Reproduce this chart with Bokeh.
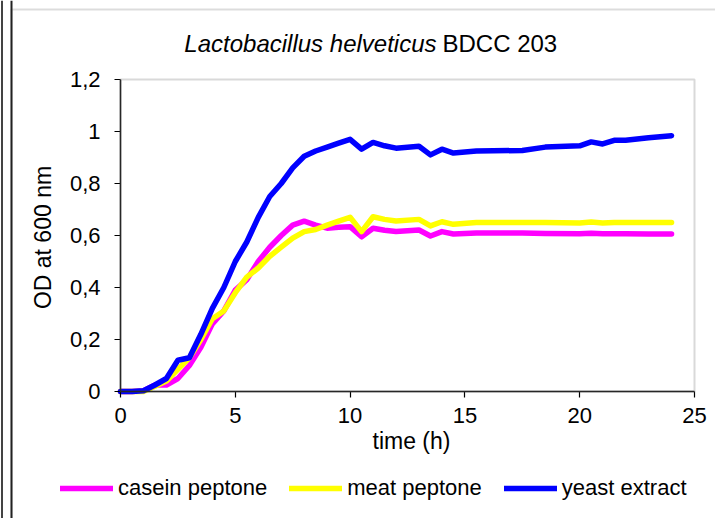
from bokeh.plotting import figure
from bokeh.models import (Range1d, FixedTicker, Label, Legend, LegendItem, LinearAxis,
                          BoxAnnotation, Span)
from bokeh.embed import file_html
from bokeh.resources import INLINE

# time (h)
time_h = [0, 0.5, 1, 1.5, 2, 2.5, 3, 3.5, 4, 4.5, 5, 5.5, 6, 6.5, 7, 7.5, 8, 8.5,
          9, 9.5, 10, 10.5, 11, 11.5, 12, 13, 13.5, 14, 14.5, 15.5, 17.5, 18.5,
          20, 20.5, 21, 21.5, 22, 23, 24]

casein_peptone = [0, 0, 0.003, 0.025, 0.025, 0.05, 0.10, 0.17, 0.26, 0.31, 0.39, 0.43,
                  0.50, 0.555, 0.60, 0.64, 0.655, 0.64, 0.628, 0.632, 0.634, 0.595,
                  0.628, 0.62, 0.615, 0.621, 0.598, 0.615, 0.606, 0.61, 0.61, 0.608,
                  0.607, 0.609, 0.607, 0.607, 0.607, 0.606, 0.606]

meat_peptone = [0, 0, 0, 0.02, 0.04, 0.085, 0.13, 0.20, 0.28, 0.31, 0.38, 0.44,
                0.475, 0.52, 0.555, 0.59, 0.615, 0.623, 0.64, 0.655, 0.67, 0.615,
                0.672, 0.662, 0.656, 0.662, 0.637, 0.653, 0.643, 0.65, 0.65, 0.65,
                0.648, 0.652, 0.648, 0.65, 0.65, 0.65, 0.65]

yeast_extract = [0, 0, 0.003, 0.025, 0.05, 0.12, 0.13, 0.22, 0.32, 0.40, 0.50, 0.575,
                 0.67, 0.75, 0.80, 0.86, 0.905, 0.925, 0.94, 0.955, 0.97, 0.932,
                 0.958, 0.945, 0.936, 0.943, 0.91, 0.932, 0.917, 0.925, 0.927, 0.94,
                 0.945, 0.96, 0.952, 0.966, 0.966, 0.976, 0.984]

series_names = ["casein peptone", "meat peptone", "yeast extract"]
series_colors = ["#FF00FF", "#FFFF00", "#0000FF"]

x_ticks = [0, 5, 10, 15, 20, 25]
y_ticks = [0, 0.2, 0.4, 0.6, 0.8, 1, 1.2]
y_tick_labels = ["0", "0,2", "0,4", "0,6", "0,8", "1", "1,2"]
x_limits = (0, 25)
y_limits = (0, 1.2)

FONT = "Liberation Sans"

# canvas geometry (px): plot box inside the canvas
W, H = 715, 518
BOX_L, BOX_R, BOX_T, BOX_B = 120, 694, 79, 391
sx = (BOX_R - BOX_L) / (x_limits[1] - x_limits[0])
sy = (BOX_B - BOX_T) / (y_limits[1] - y_limits[0])


def dx(px):
    return x_limits[0] + (px - BOX_L) / sx


def dy(py):
    return y_limits[0] + (BOX_B - py) / sy


xr = Range1d(dx(0), dx(W))
yr = Range1d(dy(H), dy(0))

p = figure(width=W, height=H, output_backend="svg", toolbar_location=None,
           x_range=xr, y_range=yr, x_axis_type=None, y_axis_type=None,
           min_border=0, min_border_left=0, min_border_right=0,
           min_border_top=0, min_border_bottom=0)
p.grid.visible = False
p.outline_line_color = None
p.background_fill_color = "white"
p.border_fill_color = "white"

# chart-area frame
p.add_layout(Span(location=dx(1.5), dimension="height", line_color="#444444", line_width=2))
p.add_layout(BoxAnnotation(left=dx(11), top=dy(9), right=dx(W + 20), bottom=dy(H + 20),
                           fill_alpha=0, line_color="#8a8a8a", line_width=2))
p.add_layout(Span(location=dx(11), dimension="height", line_color="#222222", line_width=2))

# plot box (grey top/right edges)
p.add_layout(BoxAnnotation(left=x_limits[0], right=x_limits[1], bottom=y_limits[0],
                           top=y_limits[1], fill_alpha=0, line_color="#808080",
                           line_width=2))

xaxis = LinearAxis(ticker=FixedTicker(ticks=x_ticks), fixed_location=y_limits[0],
                   bounds=x_limits)
yaxis = LinearAxis(ticker=FixedTicker(ticks=y_ticks), fixed_location=x_limits[0],
                   bounds=y_limits)
yaxis.major_label_overrides = dict(zip(y_ticks, y_tick_labels))
for ax in (xaxis, yaxis):
    ax.axis_line_color = "black"
    ax.axis_line_width = 1.5
    ax.major_tick_line_color = "black"
    ax.major_tick_line_width = 1.2
    ax.major_tick_in = 0
    ax.major_tick_out = 6
    ax.minor_tick_line_color = None
    ax.major_label_text_font = FONT
    ax.major_label_text_font_size = "22px"
    ax.major_label_text_color = "black"
xaxis.major_label_standoff = 10
yaxis.major_label_standoff = 14
p.add_layout(xaxis, "below")
p.add_layout(yaxis, "left")

renderers = []
for ys, c in zip([casein_peptone, meat_peptone, yeast_extract], series_colors):
    r = p.line(time_h, ys, line_color=c, line_width=5.5, line_join="round", line_cap="round")
    renderers.append(r)

legend = Legend(items=[LegendItem(label=n, renderers=[r]) for n, r in zip(series_names, renderers)],
                orientation="horizontal", location=(60, 17),
                glyph_width=53, glyph_height=20, label_standoff=5, spacing=22,
                padding=0, margin=0, border_line_color=None, background_fill_alpha=0,
                label_text_font=FONT, label_text_font_size="22px", label_height=22,
                label_text_color="black")
p.add_layout(legend)

# title (italic species + normal strain), axis titles
t1 = Label(x=dx(436), y=dy(43), text="Lactobacillus helveticus", text_font=FONT,
           text_font_style="italic", text_font_size="24px", text_align="right",
           text_baseline="middle", text_color="black")
t2 = Label(x=dx(442), y=dy(43), text="BDCC 203", text_font=FONT,
           text_font_size="24px", text_align="left", text_baseline="middle",
           text_color="black")
xl = Label(x=dx(411), y=dy(440), text="time (h)", text_font=FONT,
           text_font_size="23px", text_align="center", text_baseline="middle",
           text_color="black")
yl = Label(x=dx(42), y=dy(237), text="OD at 600 nm", text_font=FONT,
           text_font_size="23px", text_align="center", text_baseline="middle",
           angle=1.5707963, text_color="black")
for lb in (t1, t2, xl, yl):
    p.add_layout(lb)

open("out.html", "w").write(file_html(p, INLINE))
